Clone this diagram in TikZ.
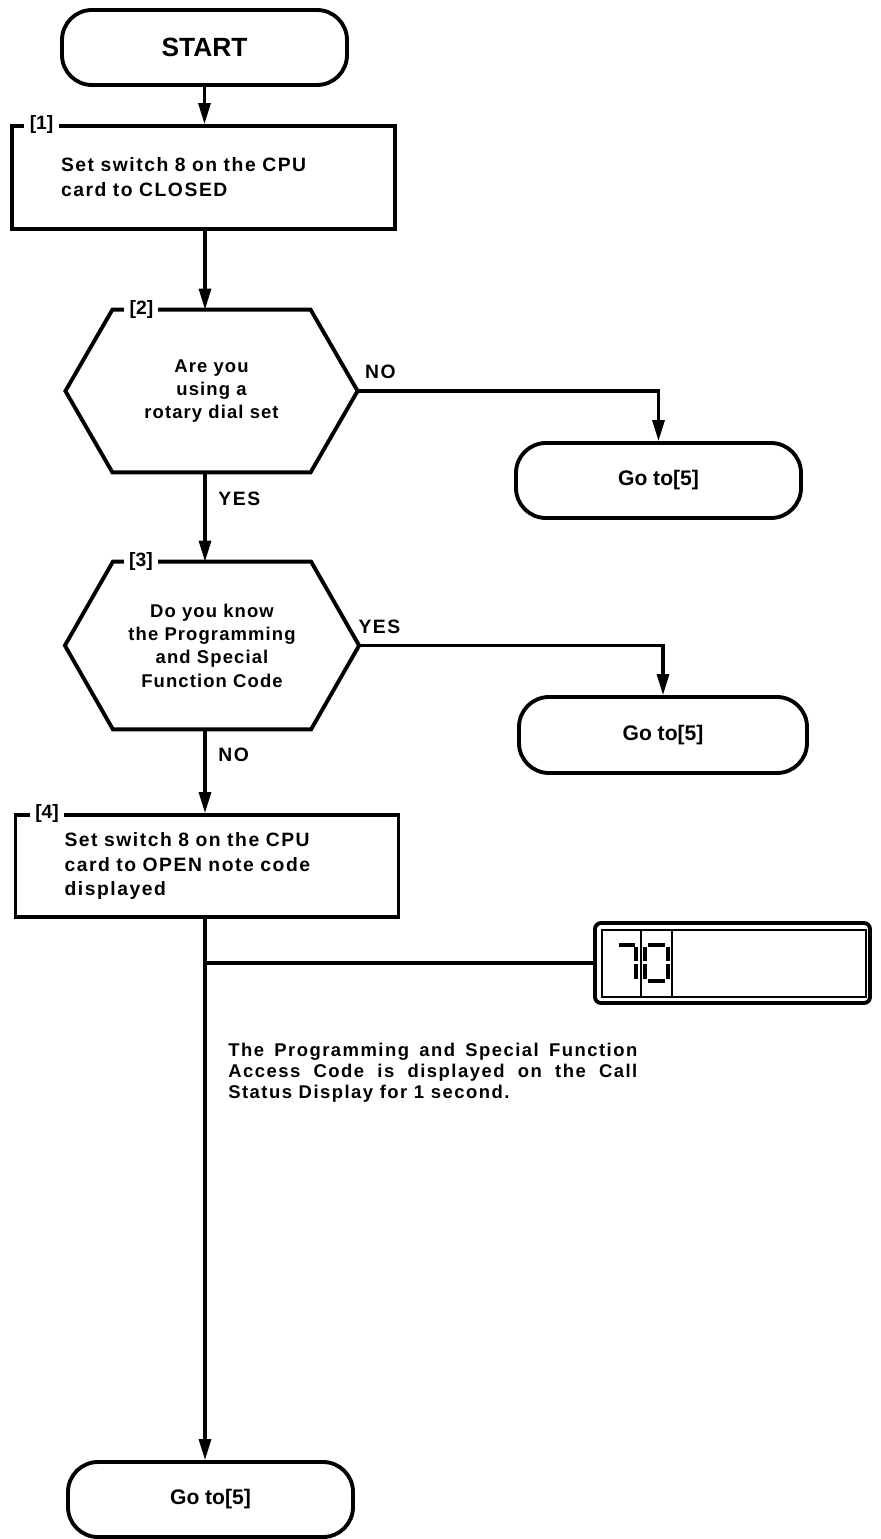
\documentclass[tikz,border=0pt]{standalone}
\usepackage{fontspec}
\setmainfont{Liberation Sans}
\newfontfamily\widefont{Liberation Sans}[LetterSpace=8]
\newfontfamily\midfont{Liberation Sans}[LetterSpace=6]
\usetikzlibrary{arrows.meta}

\tikzset{
  frame/.style={line width=2.2pt},
  flow/.style={line width=1.8pt},
  flowarrow/.style={flow, -{Triangle[length=0.42cm,width=0.24cm]}},
  terminal/.style={frame, draw, rectangle, rounded corners=0.6cm, minimum width=5.7cm, minimum height=1.5cm, font=\bfseries\fontsize{12}{14}\selectfont},
  process/.style={frame, draw, rectangle, minimum width=7.66cm, minimum height=2.06cm, inner xsep=0.98cm, text width=5.7cm, align=left, font=\widefont\bfseries\fontsize{11}{14.2}\selectfont},
  decision/.style={inner sep=0pt, minimum width=3.95cm, align=center, font=\midfont\bfseries\fontsize{10.5}{13.3}\selectfont},
  steplabel/.style={fill=white, inner xsep=3pt, inner ysep=1pt, font=\bfseries\fontsize{11}{12}\selectfont},
  answer/.style={font=\widefont\bfseries\fontsize{11}{12}\selectfont},
  segment/.style={line width=2pt}
}

% outline of a decision node, #2 = how far the side points stick out
\newcommand{\hexframe}[2]{%
  \draw[frame, line join=miter] (#1.north west) -- (#1.north east) -- ([xshift=#2]#1.east) coordinate (#1 r)
    -- (#1.south east) -- (#1.south west) -- ([xshift=-#2]#1.west) coordinate (#1 l) -- cycle;}

\begin{document}
\begin{tikzpicture}
  \useasboundingbox (0,0) rectangle (17.6,-30.78);
  \coordinate (col) at (4.1,0);

  % main column
  \node [terminal, font=\bfseries\fontsize{15}{17}\selectfont] (start) at (4.09,-0.95) {START};
  \node [process] (step1) at (4.07,-3.55) {Set switch 8 on the CPU\\card to CLOSED};
  \node [decision, minimum height=3.24cm] (ask2) at (4.23,-7.82) {Are you\\using a\\rotary dial set};
  \hexframe{ask2}{0.94cm}
  \node [decision, minimum height=3.34cm] (ask3) at (4.24,-12.91) {Do you know\\the Programming\\and Special\\Function Code};
  \hexframe{ask3}{0.96cm}
  \node [process, minimum height=2.04cm] (step4) at (4.14,-17.32) {Set switch 8 on the CPU\\card to OPEN note code\\displayed};
  \node [terminal] (goto3) at (4.21,-29.99) {Go to[5]};

  % exits to the right
  \node [terminal] (goto1) at (13.17,-9.61) {Go to[5]};
  \node [terminal, minimum width=5.76cm, minimum height=1.52cm] (goto2) at (13.26,-14.7) {Go to[5]};

  % step numbers sit on the frames
  \node [steplabel] (num1) at ([xshift=0.63cm]step1.north west) {[1]};
  \node [steplabel] (num2) at ([xshift=0.58cm]ask2.north west) {[2]};
  \node [steplabel] (num3) at ([xshift=0.56cm]ask3.north west) {[3]};
  \node [steplabel] (num4) at ([xshift=0.67cm]step4.north west) {[4]};

  % call status display
  \node [frame, draw, rounded corners=0.12cm, minimum width=5.5cm, minimum height=1.6cm] (display) at (14.65,-19.26) {};
  \draw [line width=0.8pt] (12.04,-18.6) rectangle (17.32,-19.94);
  \draw [line width=0.8pt] (12.82,-18.6) -- (12.82,-19.94);
  \draw [line width=0.8pt] (13.44,-18.6) -- (13.44,-19.94);
  \draw [segment] (12.38,-18.9) -- (12.70,-18.9);
  \draw [segment] (12.72,-18.94) -- (12.72,-19.22);
  \draw [segment] (12.72,-19.28) -- (12.72,-19.58);
  \draw [segment] (12.96,-18.9) -- (13.30,-18.9);
  \draw [segment] (12.90,-18.94) -- (12.90,-19.22);
  \draw [segment] (12.90,-19.28) -- (12.90,-19.58);
  \draw [segment] (13.36,-18.94) -- (13.36,-19.22);
  \draw [segment] (13.36,-19.28) -- (13.36,-19.58);
  \draw [segment] (12.96,-19.62) -- (13.30,-19.62);

  \node [anchor=north west, inner sep=0pt, text width=8.18cm, align=justify,
         font=\widefont\bfseries\fontsize{10.5}{11.8}\selectfont] (note) at (4.56,-20.86)
    {The Programming and Special Function\linebreak Access Code is displayed on the Call\linebreak Status Display for 1 second.};

  % connectors
  \draw [flowarrow] (start.south) -- (start.south |- step1.north);
  \draw [flowarrow] (col |- step1.south) -- (col |- ask2.north);
  \draw [flowarrow] (col |- ask2.south) -- node [answer, right, pos=0.3, xshift=0.12cm] {YES} (col |- ask3.north);
  \draw [flowarrow] (col |- ask3.south) -- node [answer, right, pos=0.3, xshift=0.12cm] {NO} (col |- step4.north);
  \draw [flowarrow] (col |- step4.south) -- (col |- goto3.north);
  \draw [flowarrow] (ask2 r) node [answer, anchor=west, yshift=0.38cm] {NO} -| (goto1.north);
  \draw [flowarrow] (ask3 r) node [answer, anchor=west, xshift=-0.16cm, yshift=0.38cm] {YES} -| (goto2.north);
  \draw [flow] (col |- display.west) -- (display.west);
\end{tikzpicture}
\end{document}
